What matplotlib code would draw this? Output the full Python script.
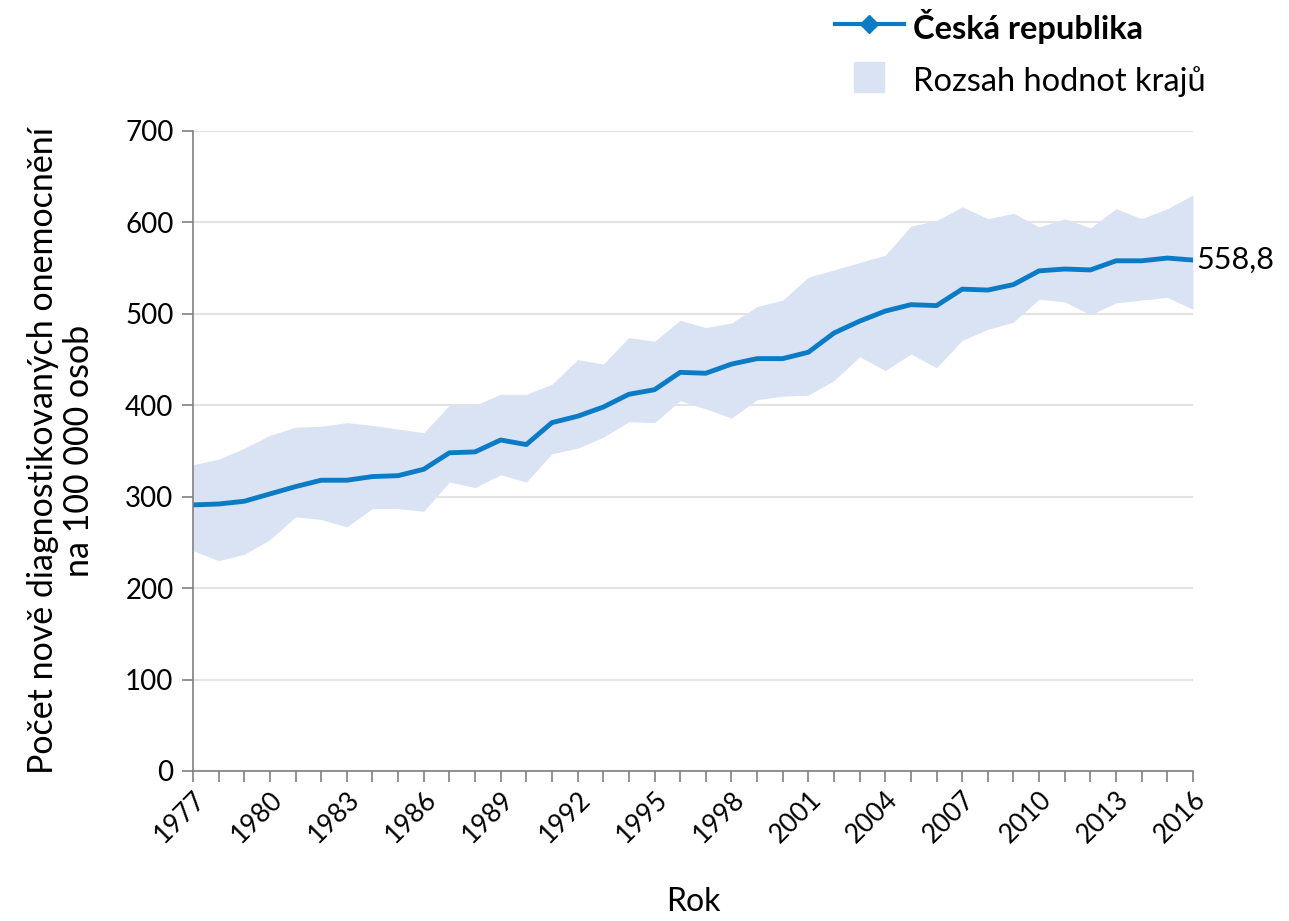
import matplotlib.pyplot as plt
import numpy as np

plt.rcParams['font.family'] = ['Lato', 'DejaVu Sans']

years = list(range(1977, 2017))
cr = [291, 292, 295, 303, 311, 318, 318, 322, 323, 330,
      348, 349, 362, 357, 381, 388, 398, 412, 417, 436,
      435, 445, 451, 451, 458, 479, 492, 503, 510, 509,
      527, 526, 532, 547, 549, 548, 558, 558, 561, 558.8]
upper = [335, 341, 353, 367, 376, 377, 381, 378, 374, 370,
         400, 400, 412, 412, 423, 450, 445, 474, 470, 493,
         485, 490, 508, 515, 540, 548, 556, 564, 596, 602,
         617, 604, 610, 595, 604, 594, 615, 604, 615, 630]
lower = [241, 230, 237, 253, 278, 275, 267, 287, 287, 284,
         316, 310, 324, 316, 347, 353, 365, 382, 381, 405,
         396, 386, 406, 410, 411, 427, 453, 438, 456, 441,
         471, 483, 491, 516, 513, 499, 512, 515, 518, 505]

blue = '#0a7bc4'
band = '#dae3f3'

fig = plt.figure(figsize=(12.89, 9.21), dpi=100)
ax = fig.add_axes([0.1497, 0.1629, 0.7758, 0.6949])

ax.fill_between(years, lower, upper, color=band, lw=0, label='Rozsah hodnot krajů')
ax.plot(years, cr, color=blue, lw=3.5, label='Česká republika')
ax.text(years[-1] + 0.15, cr[-1], '558,8', fontsize=22, va='center', ha='left')

ax.set_xlim(1977, 2016)
ax.set_ylim(0, 700)
ax.set_yticks(range(0, 701, 100))
ax.set_xticks(years, minor=True)
ax.set_xticks(range(1977, 2017, 3))
ax.set_xticklabels([str(y) for y in range(1977, 2017, 3)], rotation=45, ha='right',
                   rotation_mode='anchor', fontsize=19)
ax.tick_params(axis='y', labelsize=20, length=8, color='#808080', width=1.2, pad=6)
ax.tick_params(axis='x', which='both', length=8, color='#808080', width=1.2)
ax.grid(axis='y', color='#e3e3e3', lw=1.5)
ax.set_axisbelow(True)
for s in ['top', 'right']:
    ax.spines[s].set_visible(False)
for s in ['left', 'bottom']:
    ax.spines[s].set_color('#808080')
    ax.spines[s].set_linewidth(1.2)

ax.set_ylabel('Počet nově diagnostikovaných onemocnění\nna 100 000 osob', fontsize=24.5,
              labelpad=22, linespacing=1.15)
ax.set_xlabel('Rok', fontsize=23, labelpad=28)

from matplotlib.lines import Line2D
handles = [Line2D([0], [0], color=blue, lw=3, marker='D', markersize=9),
           Line2D([0], [0], ls='none', marker='s', markersize=22, color=band)]
leg = fig.legend(handles, ['Česká republika', 'Rozsah hodnot krajů'],
                 loc='upper left', bbox_to_anchor=(0.625, 1.022), frameon=False,
                 fontsize=23.5, handlelength=2.1, handleheight=1.4, labelspacing=0.45,
                 handletextpad=0.3)
leg.get_texts()[0].set_fontweight('bold')

fig.savefig('out.png', dpi=100)
